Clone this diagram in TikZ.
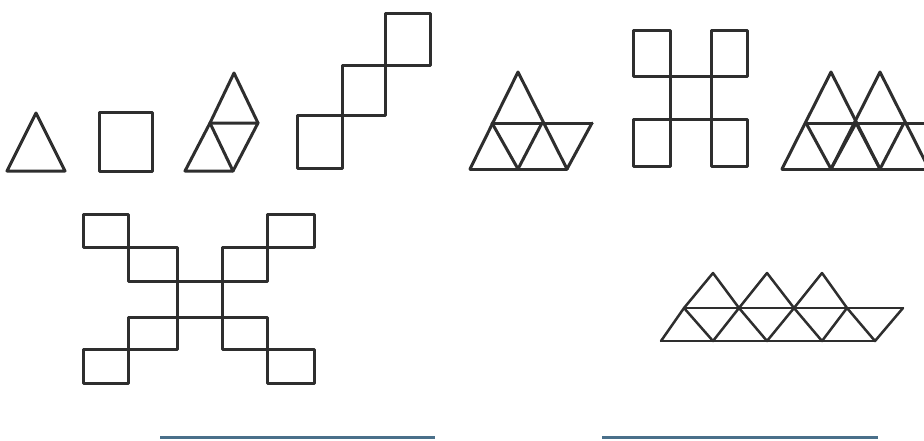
\documentclass[tikz,border=0pt]{standalone}
\begin{document}
\begin{tikzpicture}[x=1pt,y=-1pt,
  fig/.style={draw=black!82,line width=3pt,line join=round,line cap=round},
  bar/.style={draw={rgb,255:red,74;green,112;blue,138},line width=3pt}]
\useasboundingbox (0,0) rectangle (924,440);
% 1 triangle
\draw[fig] (7,171) -- (65,171) -- (36,113) -- cycle;
% 2 square
\draw[fig] (99,112) rectangle (152,171);
% 3 rhombus of three triangles
\draw[fig] (185,171) -- (233,171) -- (210,123) -- cycle;
\draw[fig] (210,123) -- (258,123) -- (233,171);
\draw[fig] (210,123) -- (234,73) -- (258,123);
% 4 staircase of squares
\draw[fig] (297,115) rectangle (342,168);
\draw[fig] (342,65) rectangle (385,115);
\draw[fig] (385,13) rectangle (430,65);
% 5 four triangles
\draw[fig] (470,169) -- (567,169);
\draw[fig] (492,123) -- (592,123);
\draw[fig] (470,169) -- (518,72) -- (567,169) -- (592,123);
\draw[fig] (492,123) -- (518,169) -- (542,123);
% 6 H of squares
\draw[fig] (633,30) rectangle (670,76);
\draw[fig] (711,30) rectangle (747,76);
\draw[fig] (670,76) rectangle (711,119);
\draw[fig] (633,119) rectangle (670,166);
\draw[fig] (711,119) rectangle (747,166);
% 7 two big triangles (clipped at right edge)
\begin{scope}
\clip (770,40) rectangle (924,190);
\draw[fig] (782,169) -- (929,169);
\draw[fig] (806,123) -- (929,123);
\draw[fig] (782,169) -- (831,72) -- (880,169);
\draw[fig] (831,169) -- (880,72) -- (929,169);
\draw[fig] (806,123) -- (831,169) -- (856,123);
\draw[fig] (856,123) -- (880,169) -- (904,123);
\end{scope}
% 8 X of squares
\draw[fig] (83,214) rectangle (128,247);
\draw[fig] (128,247) rectangle (177,281);
\draw[fig] (177,281) rectangle (222,317);
\draw[fig] (267,214) rectangle (314,247);
\draw[fig] (222,247) rectangle (267,281);
\draw[fig] (128,317) rectangle (177,349);
\draw[fig] (83,349) rectangle (128,383);
\draw[fig] (222,317) rectangle (267,349);
\draw[fig] (267,349) rectangle (314,383);
% 9 row of triangles
\begin{scope}[fig,line width=2.5pt]
\draw (661,341) -- (875,341);
\draw (684,308) -- (903,308);
\draw (684,308) -- (713,273) -- (739,308) -- (767,273) -- (794,308) -- (822,273) -- (847,308);
\draw (661,341) -- (684,308) -- (713,341) -- (739,308) -- (767,341) -- (794,308) -- (822,341) -- (847,308) -- (875,341) -- (903,308);
\end{scope}
% answer lines
\draw[bar] (160,437) -- (435,437);
\draw[bar] (602,437) -- (878,437);
\end{tikzpicture}
\end{document}
